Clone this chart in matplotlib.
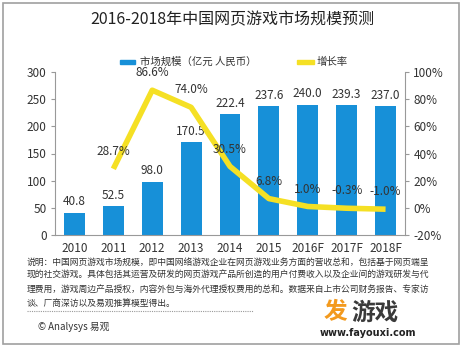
import numpy as np
import matplotlib
matplotlib.use("Agg")
import matplotlib.pyplot as plt
from matplotlib.patches import Rectangle
from matplotlib.lines import Line2D

plt.rcParams['font.family'] = ['Noto Sans CJK SC', 'DejaVu Sans']

years = ["2010", "2011", "2012", "2013", "2014", "2015", "2016F", "2017F", "2018F"]
market = [40.8, 52.5, 98.0, 170.5, 222.4, 237.6, 240.0, 239.3, 237.0]
growth_years = years[1:]
growth = [28.7, 86.6, 74.0, 30.5, 6.8, 1.0, -0.3, -1.0]

note_lines = [
    "说明：中国网页游戏市场规模，即中国网络游戏企业在网页游戏业务方面的营收总和，包括基于网页端呈",
    "现的社交游戏。具体包括其运营及研发的网页游戏产品所创造的用户付费收入以及企业间的游戏研发与代",
    "理费用，游戏周边产品授权，内容外包与海外代理授权费用的总和。数据来自上市公司财务报告、专家访",
    "谈、厂商深访以及易观推算模型得出。",
]

W, H = 463, 347
BLUE = "#1790d8"
YELLOW = "#f5e024"
TXT = "#333333"

fig = plt.figure(figsize=(W / 100, H / 100), dpi=100)
fig.patch.set_facecolor("white")

def fx(px):
    return px / W

def fy(py):
    return 1 - py / H

# outer frame
fig.patches.append(Rectangle((fx(3), fy(344)), fx(456), (341) / H, transform=fig.transFigure,
                             fill=False, edgecolor="#a0a0a0", linewidth=1.2))

ax = fig.add_axes([fx(55), fy(235), fx(350), (235 - 72) / H])
x = np.arange(len(years))
ax.bar(x, market, width=0.54, color=BLUE, zorder=2)
for xi, v in zip(x, market):
    ax.text(xi, v + 8, f"{v:.1f}", ha="center", va="bottom", fontsize=8.5, color=TXT, zorder=5)
ax.set_xlim(-0.5, len(years) - 0.5)
ax.set_ylim(0, 300)
ax.set_yticks(range(0, 301, 50))
ax.set_xticks(x)
ax.set_xticklabels(years)
ax.tick_params(axis="x", length=0, labelsize=8.5, colors=TXT, pad=5)
ax.tick_params(axis="y", length=3, labelsize=8.5, colors=TXT, pad=3, color="#999999")
for s in ["top", "right"]:
    ax.spines[s].set_visible(False)
for s in ["left", "bottom"]:
    ax.spines[s].set_color("#999999")
    ax.spines[s].set_linewidth(0.8)

ax2 = ax.twinx()
gx = x[1:]
ax2.plot(gx, growth, color=YELLOW, linewidth=4, solid_capstyle="butt", solid_joinstyle="round", zorder=3)
ax2.set_ylim(-20, 100)
ax2.set_yticks(range(-20, 101, 20))
ax2.set_yticklabels([f"{t}%" for t in range(-20, 101, 20)])
ax2.tick_params(axis="y", length=3, labelsize=8.5, colors=TXT, pad=3, color="#999999")
for s in ["top", "left", "bottom"]:
    ax2.spines[s].set_visible(False)
ax2.spines["right"].set_color("#999999")
ax2.spines["right"].set_linewidth(0.8)
for xi, g in zip(gx, growth):
    ax2.text(xi, g + 8, f"{g:.1f}%", ha="center", va="bottom", fontsize=8.5, color=TXT, zorder=5)

# title
fig.text(fx(232), fy(20), "2016-2018年中国网页游戏市场规模预测", ha="center", va="center",
         fontsize=11.5, color="#222222")

# legend
fig.patches.append(Rectangle((fx(120), fy(63.5)), fx(15), 3 / H, transform=fig.transFigure,
                             color=BLUE))
fig.text(fx(140), fy(62), "市场规模（亿元 人民币）", ha="left", va="center", fontsize=7.5, color=TXT)
fig.patches.append(Rectangle((fx(297), fy(63.5)), fx(17), 3 / H, transform=fig.transFigure,
                             color=YELLOW))
fig.text(fx(317), fy(62), "增长率", ha="left", va="center", fontsize=7.5, color=TXT)

# notes, shrunk so the first line runs from x=27 to x=433
renderer = fig.canvas.get_renderer()
note_texts = []
for i, line in enumerate(note_lines):
    t = fig.text(fx(27), fy(262 + i * 13.7), line, ha="left", va="center", fontsize=7, color=TXT)
    note_texts.append(t)
w0 = note_texts[0].get_window_extent(renderer).width
fs = 7 * 406 / w0
for t in note_texts:
    t.set_fontsize(fs)
fig.lines.append(Line2D([fx(27), fx(253)], [fy(311), fy(311)], transform=fig.transFigure,
                        color="#999999", linewidth=0.8, linestyle=(0, (1, 1))))
fig.text(fx(38), fy(327), "© Analysys 易观", ha="left", va="center", fontsize=7, color=TXT)

# site mark
fig.text(fx(324), fy(312), "发", ha="left", va="center", fontsize=17, fontweight="bold", color="#f39a1e")
fig.text(fx(351), fy(313), "游戏", ha="left", va="center", fontsize=17, fontweight="bold", color="#3a3a3a")
fig.text(fx(368), fy(333), "www.fayouxi.com", ha="center", va="center", fontsize=7,
         fontweight="bold", color="#222222", family=["DejaVu Sans"])

fig.savefig("out.png", dpi=100)
